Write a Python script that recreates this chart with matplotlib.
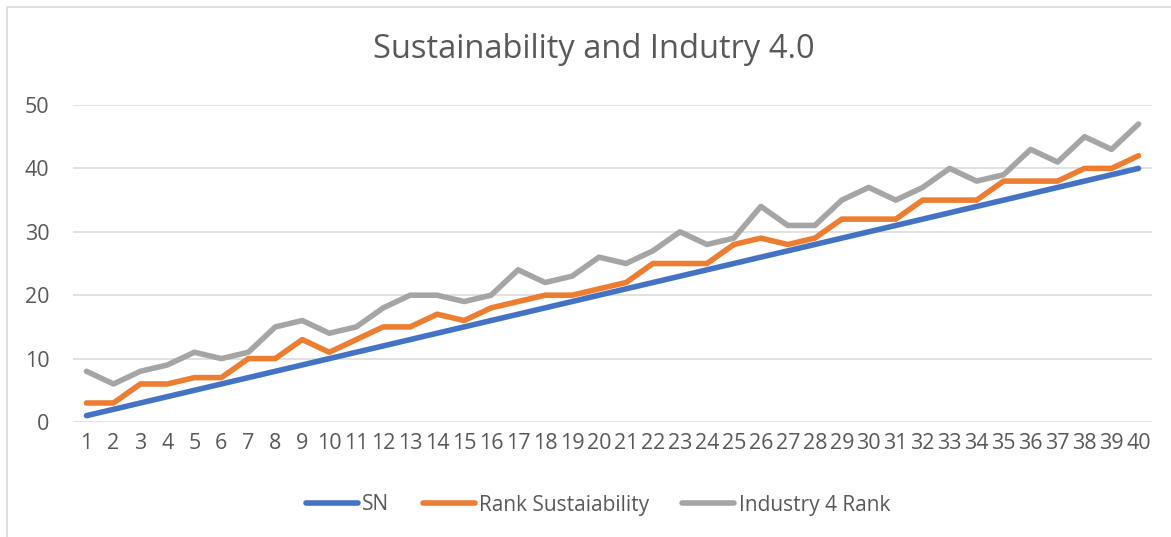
import numpy as np
import matplotlib.pyplot as plt
from matplotlib.patches import Rectangle

plt.rcParams['font.family'] = ['Open Sans', 'DejaVu Sans']

sn = list(range(1, 41))
rank_sust = [3, 3, 6, 6, 7, 7, 10, 10, 13, 11,
             13, 15, 15, 17, 16, 18, 19, 20, 20, 21,
             22, 25, 25, 25, 28, 29, 28, 29, 32, 32,
             32, 35, 35, 35, 38, 38, 38, 40, 40, 42]
ind_rank = [8, 6, 8, 9, 11, 10, 11, 15, 16, 14,
            15, 18, 20, 20, 19, 20, 24, 22, 23, 26,
            25, 27, 30, 28, 29, 34, 31, 31, 35, 37,
            35, 37, 40, 38, 39, 43, 41, 45, 43, 47]
labels = ['SN', 'Rank Sustaiability', 'Industry 4 Rank']
colors = ['#4472C4', '#ED7D31', '#A5A5A5']
txt = '#595959'

fig = plt.figure(figsize=(11.71, 5.37), dpi=100)
ax = fig.add_axes([73 / 1171, 1 - 422 / 537, (1152 - 73) / 1171, (422 - 105) / 537])

for y, lab, c in zip([sn, rank_sust, ind_rank], labels, colors):
    ax.plot(sn, y, color=c, lw=4, label=lab, solid_capstyle='round', solid_joinstyle='round')

ax.set_xlim(0.5, 40.5)
ax.set_ylim(0, 50)
ax.set_xticks(sn)
ax.set_yticks(range(0, 51, 10))
ax.grid(axis='y', color='#D9D9D9', lw=1.1)
ax.set_axisbelow(True)
for s in ax.spines.values():
    s.set_visible(False)
ax.tick_params(length=0, labelsize=15.5, labelcolor=txt)
ax.tick_params(axis='y', pad=17)
ax.tick_params(axis='x', pad=8)

fig.text(594 / 1171, 1 - 50 / 537, 'Sustainability and Indutry 4.0', ha='center', va='center',
         fontsize=23.5, color=txt)

leg = fig.legend(loc='center', bbox_to_anchor=(598 / 1171, 1 - 505 / 537), ncol=3, frameon=False,
                 fontsize=15, handlelength=2.5, handletextpad=0.2, columnspacing=1.6)
for t in leg.get_texts():
    t.set_color(txt)

fig.patches.append(Rectangle((7 / 1171, -0.1), 1.2, 1 - 7 / 537 + 0.1, transform=fig.transFigure,
                             fill=False, ec='#D9D9D9', lw=1.2))

fig.savefig('out.png', dpi=100)
